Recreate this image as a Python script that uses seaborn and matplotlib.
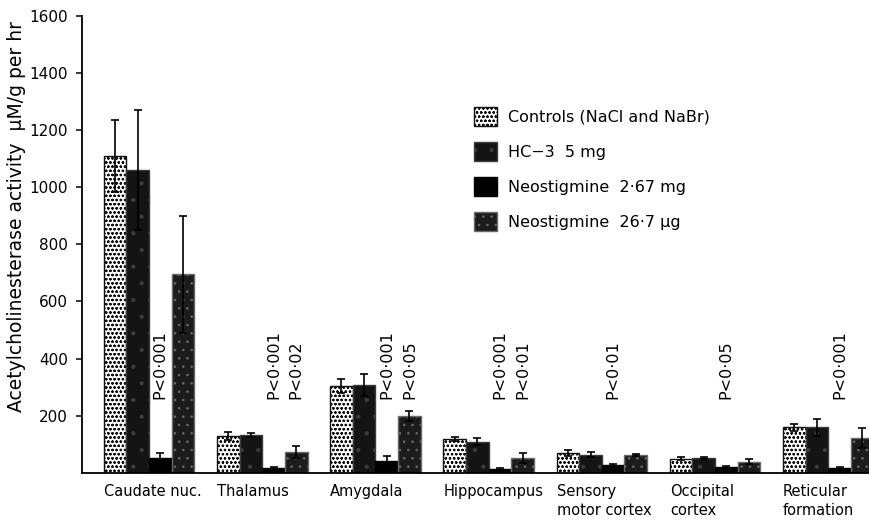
import matplotlib
matplotlib.use("Agg")
import matplotlib.pyplot as plt
import matplotlib.patches as mpatches
import numpy as np
import pandas as pd
import seaborn as sns

# Brain regions and treatment groups
regions = ["Caudate nuc.", "Thalamus", "Amygdala", "Hippocampus",
           "Sensory\nmotor cortex", "Occipital\ncortex", "Reticular\nformation"]
groups = ["Controls (NaCl and NaBr)", "HC\u22123  5 mg",
          "Neostigmine  2\u00b767 mg", "Neostigmine  26\u00b77 \u00b5g"]

# Mean acetylcholinesterase activity (µM/g per hr), one list per group
controls = [1108, 129, 304, 119, 70, 50, 160]
hc3 = [1060, 133, 307, 110, 64, 52, 160]
neo_267mg = [52, 18, 42, 15, 27, 20, 17]
neo_267ug = [695, 73, 199, 52, 62, 40, 122]

# Standard errors
controls_se = [126, 14, 24, 7, 9, 6, 13]
hc3_se = [210, 8, 38, 13, 8, 4, 30]
neo_267mg_se = [18, 4, 17, 4, 6, 5, 4]
neo_267ug_se = [205, 21, 17, 18, 4, 9, 34]

# Significance labels: (region index, group index, text)
p_labels = [(0, 2, "P<0\u00b7001"),
            (1, 2, "P<0\u00b7001"), (1, 3, "P<0\u00b702"),
            (2, 2, "P<0\u00b7001"), (2, 3, "P<0\u00b705"),
            (3, 2, "P<0\u00b7001"), (3, 3, "P<0\u00b701"),
            (4, 2, "P<0\u00b701"),
            (5, 2, "P<0\u00b705"),
            (6, 2, "P<0\u00b7001")]

yticks = [200, 400, 600, 800, 1000, 1200, 1400, 1600]

values = [controls, hc3, neo_267mg, neo_267ug]
errors = [controls_se, hc3_se, neo_267mg_se, neo_267ug_se]

df = pd.DataFrame({
    "region": [r for g in groups for r in regions],
    "group": [g for g in groups for r in regions],
    "value": [v for vals in values for v in vals],
})

sns.set_style("white")
plt.rcParams["font.family"] = ["DejaVu Sans"]
plt.rcParams["hatch.linewidth"] = 0.6
plt.rcParams["text.color"] = "black"
plt.rcParams["axes.labelcolor"] = "black"
plt.rcParams["ytick.color"] = "black"
plt.rcParams["xtick.color"] = "black"

fig = plt.figure(figsize=(8.69, 5.21), dpi=100)
ax = fig.add_axes([82 / 869, 48 / 521, 787 / 869, 457.5 / 521])

sns.barplot(data=df, x="region", y="value", hue="group",
            order=regions, hue_order=groups,
            palette=["white", "#141414", "#000000", "#1c1c1c"],
            saturation=1, width=0.8, errorbar=None, legend=False, ax=ax)

# Fill patterns for each group
styles = [
    dict(facecolor="white", edgecolor="#111111", hatch="oooo", linewidth=1.0),
    dict(facecolor="#141414", edgecolor="#3c3c3c", hatch=".", linewidth=1.0),
    dict(facecolor="#000000", edgecolor="#000000", hatch=None, linewidth=1.0),
    dict(facecolor="#1c1c1c", edgecolor="#6a6a6a", hatch="..", linewidth=1.0),
]

bar_containers = list(ax.containers)
centers = {}
for gi, cont in enumerate(bar_containers):
    for ri, bar in enumerate(cont.patches):
        bar.set_facecolor(styles[gi]["facecolor"])
        bar.set_edgecolor(styles[gi]["edgecolor"])
        bar.set_hatch(styles[gi]["hatch"])
        bar.set_linewidth(styles[gi]["linewidth"])
        cx = bar.get_x() + bar.get_width() / 2
        centers[(ri, gi)] = cx
        ax.errorbar(cx, bar.get_height(), yerr=errors[gi][ri],
                    fmt="none", ecolor="black", elinewidth=1.2,
                    capsize=3, capthick=1.2, zorder=3)

# Significance annotations
for ri, gi, txt in p_labels:
    ax.text(centers[(ri, gi)], 258, txt, rotation=90, ha="center",
            va="bottom", fontsize=11.5, color="black")

# Region names, left-aligned under each group
for i, name in enumerate(regions):
    ax.text(i - 0.4, -40, name, ha="left", va="top", fontsize=10.5,
            linespacing=1.3, clip_on=False, multialignment="left",
            color="black")

ax.set_xlim(-0.592, 6.36)
ax.set_ylim(0, 1600)
ax.set_xticks([])
ax.set_xlabel("")
ax.set_yticks(yticks)
ax.set_yticklabels([str(t) for t in yticks], fontsize=11)
ax.tick_params(axis="y", direction="out", length=4, width=1.1, pad=6,
               left=True, colors="black")
ax.set_ylabel("Acetylcholinesterase activity  \u00b5M/g per hr",
              fontsize=13.5, color="black")
ax.yaxis.set_label_coords(-0.071, 0.561)

for side in ["top", "right"]:
    ax.spines[side].set_visible(False)
for side in ["left", "bottom"]:
    ax.spines[side].set_color("black")
    ax.spines[side].set_linewidth(1.3)

handles = [mpatches.Patch(facecolor=s["facecolor"], edgecolor=s["edgecolor"],
                          hatch=s["hatch"], linewidth=1.0) for s in styles]
ax.legend(handles, groups, loc="upper left",
          bbox_to_anchor=(474 / 869, 1 - 107 / 521),
          bbox_transform=fig.transFigure, frameon=False,
          fontsize=11.5, handlelength=1.45, handleheight=1.45,
          handletextpad=0.7, labelspacing=1.0, borderpad=0,
          borderaxespad=0, labelcolor="black")

fig.savefig("out.png", dpi=100)
